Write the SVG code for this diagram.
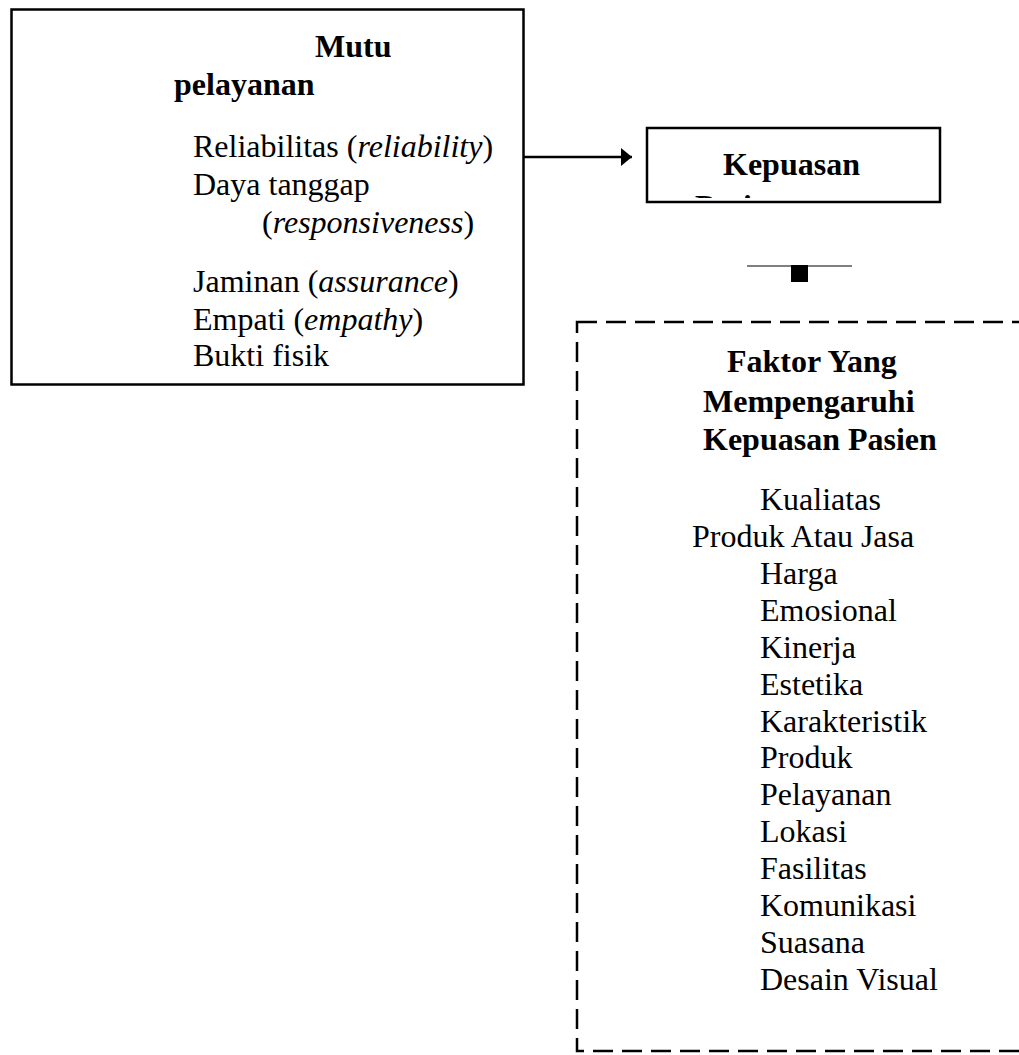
<svg xmlns="http://www.w3.org/2000/svg" width="1019" height="1055" viewBox="0 0 1019 1055">
<style>
text { font-family: "Liberation Serif", "Times New Roman", serif; font-size: 32px; fill: #000; }
.b { font-weight: bold; }
.i { font-style: italic; }
.box { fill: #fff; stroke: #000; stroke-width: 2.5; }
.dash { fill: none; stroke: #000; stroke-width: 2.5; stroke-dasharray: 20 9; }
.conn { stroke: #000; stroke-width: 2.5; fill: none; }
</style>
<defs>
<marker id="arr" markerWidth="11" markerHeight="18" refX="11" refY="9" orient="auto" markerUnits="userSpaceOnUse">
<path d="M0,0 L11,9 L0,18 Z" fill="#000"/>
</marker>
<clipPath id="kclip"><rect x="648" y="129" width="292" height="69"/></clipPath>
</defs>
<rect width="1019" height="1055" fill="#fff"/>
<g id="mutu">
<rect class="box" x="11.5" y="9.5" width="512" height="375"/>
<text class="b" x="315" y="57">Mutu</text>
<text class="b" x="174" y="95">pelayanan</text>
<text x="193" y="157">Reliabilitas (<tspan class="i">reliability</tspan>)</text>
<text x="193" y="195">Daya tanggap</text>
<text x="262" y="233">(<tspan class="i">responsiveness</tspan>)</text>
<text x="193" y="292">Jaminan (<tspan class="i">assurance</tspan>)</text>
<text x="193" y="330">Empati (<tspan class="i">empathy</tspan>)</text>
<text x="193" y="366">Bukti fisik</text>
</g>
<g id="kepuasan">
<rect class="box" x="647" y="128" width="293" height="74"/>
<text class="b" x="723" y="175">Kepuasan</text>
<text class="b" x="695" y="217" clip-path="url(#kclip)">Pasien</text>
</g>
<g id="faktor">
<rect class="dash" x="577" y="322" width="480" height="729"/>
<text class="b" x="727" y="372">Faktor Yang</text>
<text class="b" x="703" y="412">Mempengaruhi</text>
<text class="b" x="703" y="450">Kepuasan Pasien</text>
<text x="760" y="510">Kualiatas</text>
<text x="692" y="547">Produk Atau Jasa</text>
<text x="760" y="584">Harga</text>
<text x="760" y="621">Emosional</text>
<text x="760" y="658">Kinerja</text>
<text x="760" y="695">Estetika</text>
<text x="760" y="732">Karakteristik</text>
<text x="760" y="768">Produk</text>
<text x="760" y="805">Pelayanan</text>
<text x="760" y="842">Lokasi</text>
<text x="760" y="879">Fasilitas</text>
<text x="760" y="916">Komunikasi</text>
<text x="760" y="953">Suasana</text>
<text x="760" y="990">Desain Visual</text>
</g>
<g id="connectors">
<line class="conn" x1="524" y1="157" x2="632" y2="157" marker-end="url(#arr)"/>
<line x1="747" y1="266" x2="852" y2="266" stroke="#000" stroke-width="1"/>
<rect x="791" y="265" width="17" height="17" fill="#000"/>
</g>
</svg>
